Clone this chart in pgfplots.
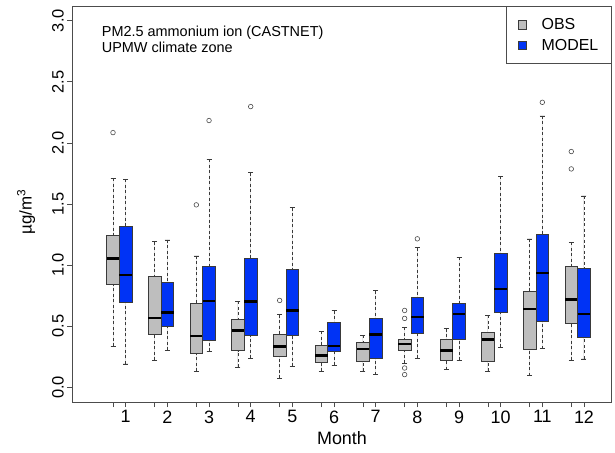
\documentclass[border=0pt]{standalone}
\usepackage{pgfplots}
\pgfplotsset{compat=1.18}
\usepgfplotslibrary{statistics}
\usepackage{fontspec}
\setmainfont{Liberation Sans}
\definecolor{obsgray}{HTML}{BEBEBE}
\definecolor{modblue}{HTML}{0033F5}
\definecolor{lincol}{HTML}{3A3A3A}
\newcommand{\bx}[7]{%
  \addplot[forget plot, fill=#2, draw=lincol, line width=0.6bp,
    boxplot prepared={draw position=#1, lower whisker=#3, lower quartile=#4,
      median=#5, upper quartile=#6, upper whisker=#7,
      box extend=0.3, whisker extend=0.12}] coordinates {};}
\begin{document}
\begin{tikzpicture}
\begin{axis}[
  name=ax, at={(0,0)}, anchor=south west,
  scale only axis, width=539.4bp, height=396bp,
  xmin=-0.282, xmax=12.665, ymin=-0.12, ymax=3.12,
  boxplot/draw direction=y,
  axis line style={draw=black!70, line width=0.7bp},
  every tick/.style={draw=black!70, line width=0.7bp},
  tick pos=left, tick align=outside, major tick length=5bp,
  xtick={1,2,3,4,5,6,7,8,9,10,11,12},
  xticklabels={1,2,3,4,5,6,7,8,9,10,11,12},
  extra x ticks={0.695,1.695,2.695,3.695,4.695,5.695,6.695,7.695,8.695,9.695,10.695,11.695},
  extra x tick labels={},
  extra x tick style={tick style={draw=black!70, line width=0.7bp}},
  ytick={0,0.5,1,1.5,2,2.5,3},
  yticklabels={0.0,0.5,1.0,1.5,2.0,2.5,3.0},
  yticklabel style={rotate=90, anchor=south, font=\fontsize{16.5}{16.5}\selectfont},
  xticklabel style={font=\fontsize{18}{18}\selectfont},
  xlabel={Month},
  xlabel style={at={(rel axis cs:0.5,0)}, anchor=base, yshift=-42.3bp, font=\fontsize{18}{18}\selectfont},
  boxplot/every median/.style={line width=2.4bp, draw=black},
  boxplot/draw/lower whisker/.code={
    \draw[lincol, line width=0.6bp, dash pattern=on 3bp off 2.5bp] (boxplot cs:\pgfplotsboxplotvalue{lower whisker}) -- (boxplot cs:\pgfplotsboxplotvalue{lower quartile});
    \draw[lincol, line width=0.6bp, solid] (boxplot whisker cs:\pgfplotsboxplotvalue{lower whisker},0) -- (boxplot whisker cs:\pgfplotsboxplotvalue{lower whisker},1);
  },
  boxplot/draw/upper whisker/.code={
    \draw[lincol, line width=0.6bp, dash pattern=on 3bp off 2.5bp] (boxplot cs:\pgfplotsboxplotvalue{upper whisker}) -- (boxplot cs:\pgfplotsboxplotvalue{upper quartile});
    \draw[lincol, line width=0.6bp, solid] (boxplot whisker cs:\pgfplotsboxplotvalue{upper whisker},0) -- (boxplot whisker cs:\pgfplotsboxplotvalue{upper whisker},1);
  },
  legend style={at={(1,1)}, anchor=north east, draw=black!70, line width=0.7bp, fill=white,
    font=\fontsize{16}{16}\selectfont, inner xsep=11bp, inner ysep=10bp, row sep=4bp,
    /tikz/every odd column/.append style={column sep=13bp}},
  legend cell align=left,
  legend image code/.code={\draw[#1, line width=0.5bp] (0bp,-4.3bp) rectangle (8.6bp,4.3bp);},
]
% OBS boxes: position, fill, lower whisker, Q1, median, Q3, upper whisker
\bx{0.695}{obsgray}{0.335}{0.839}{1.055}{1.245}{1.711}
\bx{1.695}{obsgray}{0.221}{0.436}{0.567}{0.907}{1.193}
\bx{2.695}{obsgray}{0.131}{0.275}{0.422}{0.684}{1.076}
\bx{3.695}{obsgray}{0.163}{0.300}{0.466}{0.553}{0.703}
\bx{4.695}{obsgray}{0.076}{0.251}{0.335}{0.433}{0.594}
\bx{5.695}{obsgray}{0.131}{0.207}{0.262}{0.343}{0.458}
\bx{6.695}{obsgray}{0.131}{0.210}{0.316}{0.368}{0.425}
\bx{7.695}{obsgray}{0.199}{0.300}{0.357}{0.392}{0.490}
\bx{8.695}{obsgray}{0.144}{0.221}{0.300}{0.395}{0.480}
\bx{9.695}{obsgray}{0.131}{0.213}{0.390}{0.450}{0.589}
\bx{10.695}{obsgray}{0.095}{0.308}{0.640}{0.785}{1.215}
\bx{11.695}{obsgray}{0.221}{0.526}{0.717}{0.989}{1.185}
% MODEL boxes
\bx{1}{modblue}{0.191}{0.695}{0.921}{1.316}{1.703}
\bx{2}{modblue}{0.302}{0.499}{0.613}{0.858}{1.207}
\bx{3}{modblue}{0.294}{0.384}{0.706}{0.989}{1.866}
\bx{4}{modblue}{0.240}{0.422}{0.703}{1.052}{1.757}
\bx{5}{modblue}{0.172}{0.428}{0.629}{0.965}{1.469}
\bx{6}{modblue}{0.180}{0.292}{0.338}{0.531}{0.627}
\bx{7}{modblue}{0.104}{0.237}{0.433}{0.564}{0.790}
\bx{8}{modblue}{0.240}{0.444}{0.575}{0.733}{1.144}
\bx{9}{modblue}{0.221}{0.390}{0.599}{0.684}{1.063}
\bx{10}{modblue}{0.327}{0.613}{0.804}{1.093}{1.725}
\bx{11}{modblue}{0.316}{0.537}{0.935}{1.248}{2.221}
\bx{12}{modblue}{0.232}{0.409}{0.599}{0.970}{1.567}
% outliers
\addplot[forget plot, only marks, mark=o, mark size=2.3bp, draw=black!70, mark options={line width=0.6bp}]
  coordinates {(0.695,2.084) (2.695,1.493) (3,2.183) (4,2.297) (4.695,0.711)
  (7.695,0.629) (7.695,0.564) (7.695,0.158) (7.695,0.104) (8,1.215)
  (11,2.332) (11.695,1.929) (11.695,1.787)};
\addlegendimage{fill=obsgray, draw=lincol}
\addlegendentry{OBS}
\addlegendimage{fill=modblue, draw=lincol}
\addlegendentry{MODEL}
\end{axis}
\node[rotate=90, anchor=center, font=\fontsize{17}{17}\selectfont] at ([xshift=-46.3bp, yshift=-7.9bp]ax.west) {µg/m\textsuperscript{3}};
\node[anchor=base west, inner sep=0, font=\fontsize{14.5}{14.5}\selectfont] at ([xshift=29.4bp, yshift=-30.7bp]ax.north west) {PM2.5 ammonium ion (CASTNET)};
\node[anchor=base west, inner sep=0, font=\fontsize{14.5}{14.5}\selectfont] at ([xshift=29.4bp, yshift=-46.7bp]ax.north west) {UPMW climate zone};
\pgfresetboundingbox
\path[use as bounding box] ([shift={(-72.3bp,-51bp)}]ax.south west) rectangle ([shift={(3.3bp,6bp)}]ax.north east);
\end{tikzpicture}
\end{document}
